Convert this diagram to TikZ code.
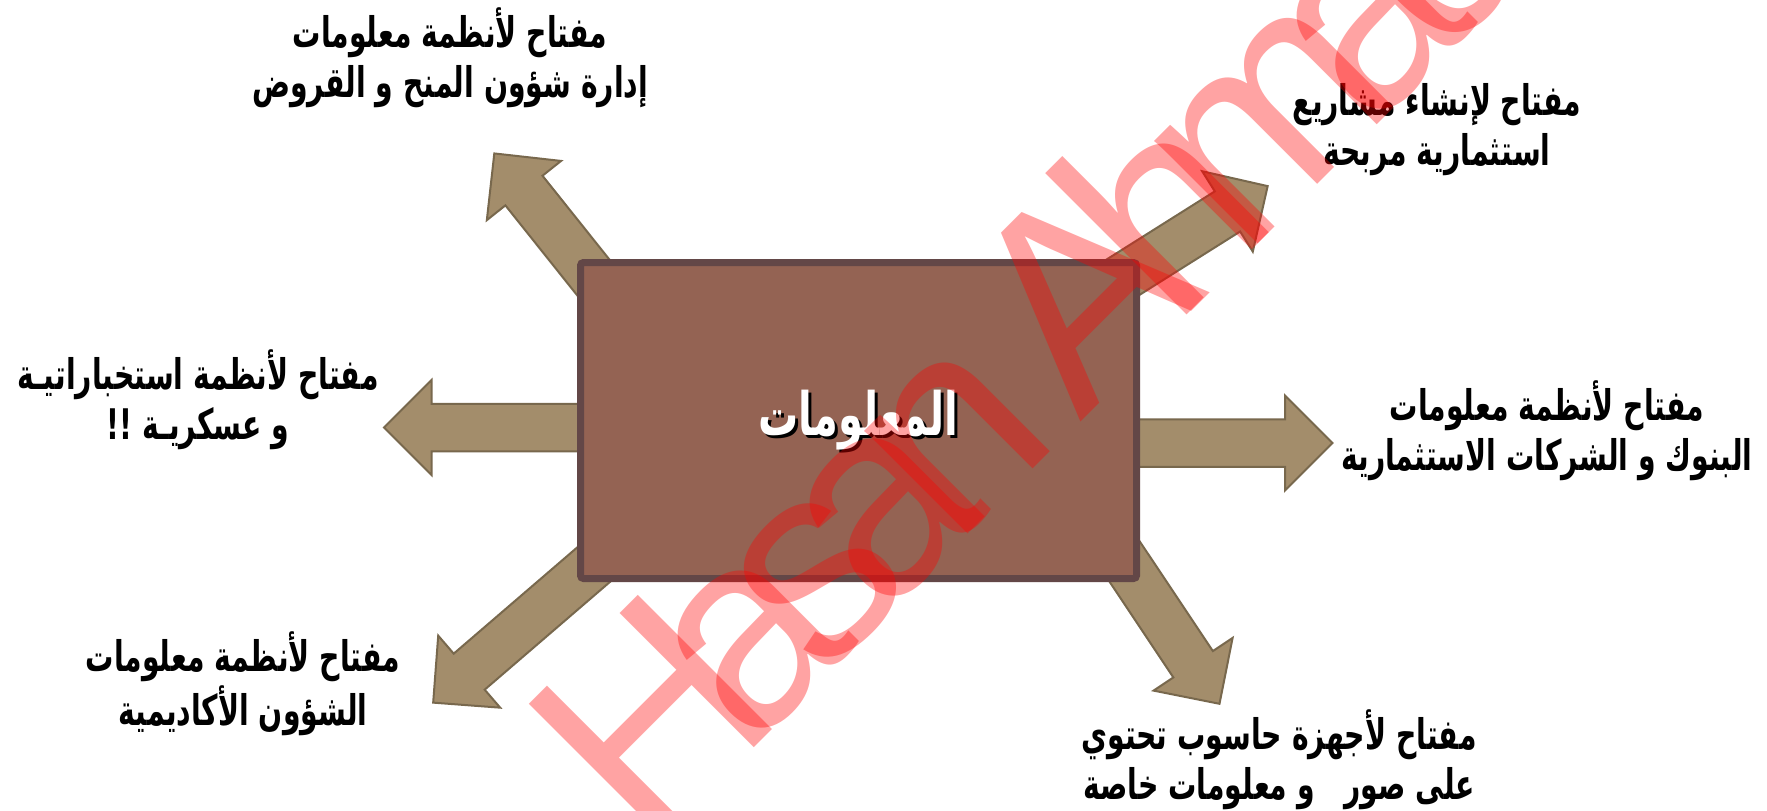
\documentclass[tikz,border=0pt]{standalone}
\usepackage{fontspec}
\setmainfont{Liberation Sans}
\newfontfamily\arabicfont[Script=Arabic, FakeStretch=0.67]{DejaVu Sans}
\TeXXeTstate=1
\usetikzlibrary{shapes.arrows}

\definecolor{boxfill}{RGB}{148,99,83}
\definecolor{boxline}{RGB}{99,71,71}
\definecolor{arrowfill}{RGB}{163,141,107}
\definecolor{arrowline}{RGB}{120,104,77}

\newcommand{\artext}[1]{{\arabicfont\bfseries\beginR #1\endR}}

\tikzset{
  infobox/.style={rectangle, draw=boxline, fill=boxfill, line width=0.07cm, rounded corners=0.03cm, minimum width=5.56cm, minimum height=3.16cm, inner sep=0pt},
  infotext/.style={font=\fontsize{17}{19}\selectfont, inner sep=0pt},
  keyarrow/.style={single arrow, draw=arrowline, fill=arrowfill, line width=0.02cm, inner xsep=0pt, inner ysep=0.2275cm, single arrow head extend=0.2375cm, anchor=tail},
  keylabel/.style={align=center, font=\fontsize{12}{14.2}\selectfont, inner sep=0pt},
  watermark/.style={font={\fontsize{78.5}{80}\selectfont\addfontfeatures{LetterSpace=-19}}, text=red, text opacity=0.36, rotate=45, anchor=base west, inner sep=0pt}
}

\begin{document}
\begin{tikzpicture}
      \useasboundingbox (0,0) rectangle (17.67,8.10);
      \fill[white] (0,0) rectangle (17.67,8.10);

      \node[keyarrow, minimum height=2.15cm, rotate=180] (arrIntel) at (6.00,3.825) {};
      \node[keyarrow, minimum height=2.115cm, rotate=0] (arrBank) at (11.20,3.67) {};
      \node[keyarrow, minimum height=2.0cm, rotate=128.6] (arrAdmin) at (6.197,4.995) {};
      \node[keyarrow, minimum height=2.3cm, rotate=220.7] (arrAcad) at (6.083,2.58) {};
      \node[keyarrow, minimum height=2.3cm, rotate=-56.3] (arrDevice) at (10.913,2.984) {};
      \node[keyarrow, minimum height=2.3cm, rotate=32.2] (arrInvest) at (10.722,5.008) {};

      \node[infobox] (info) at (8.585,3.895) {};
      \node[infotext, text=black] at ([xshift=0.03cm, yshift=-0.03cm]info.center) {\artext{المعلومات}};
      \node[infotext, text=white] (infotitle) at (info.center) {\artext{المعلومات}};

      \node[keylabel] (keyAdmin) at (4.50,7.52) {\artext{مفتاح لأنظمة معلومات}\\\artext{إدارة شؤون المنح و القروض}};
      \node[keylabel] (keyInvest) at (14.37,6.80) {\artext{مفتاح لإنشاء مشاريع}\\\artext{استثمارية مربحة}};
      \node[keylabel] (keyIntel) at (1.98,4.10) {\artext{مفتاح لأنظمة استخباراتيـة}\\\artext{و عسكريـة !!}};
      \node[keylabel] (keyBank) at (15.47,3.79) {\artext{مفتاح لأنظمة معلومات}\\\artext{البنوك و الشركات الاستثمارية}};
      \node[keylabel] (keyAcad) at (2.43,1.26) {\artext{مفتاح لأنظمة معلومات}\\\artext{الشؤون الأكاديمية}};
      \node[keylabel] (keyDevice) at (12.79,0.50) {\artext{مفتاح لأجهزة حاسوب تحتوي}\\\artext{على صور\ \ \ و معلومات خاصة}};

      \node[watermark] (mark) at (6.47,-0.45) {Hasan Ahmad};
    \end{tikzpicture}
\end{document}
